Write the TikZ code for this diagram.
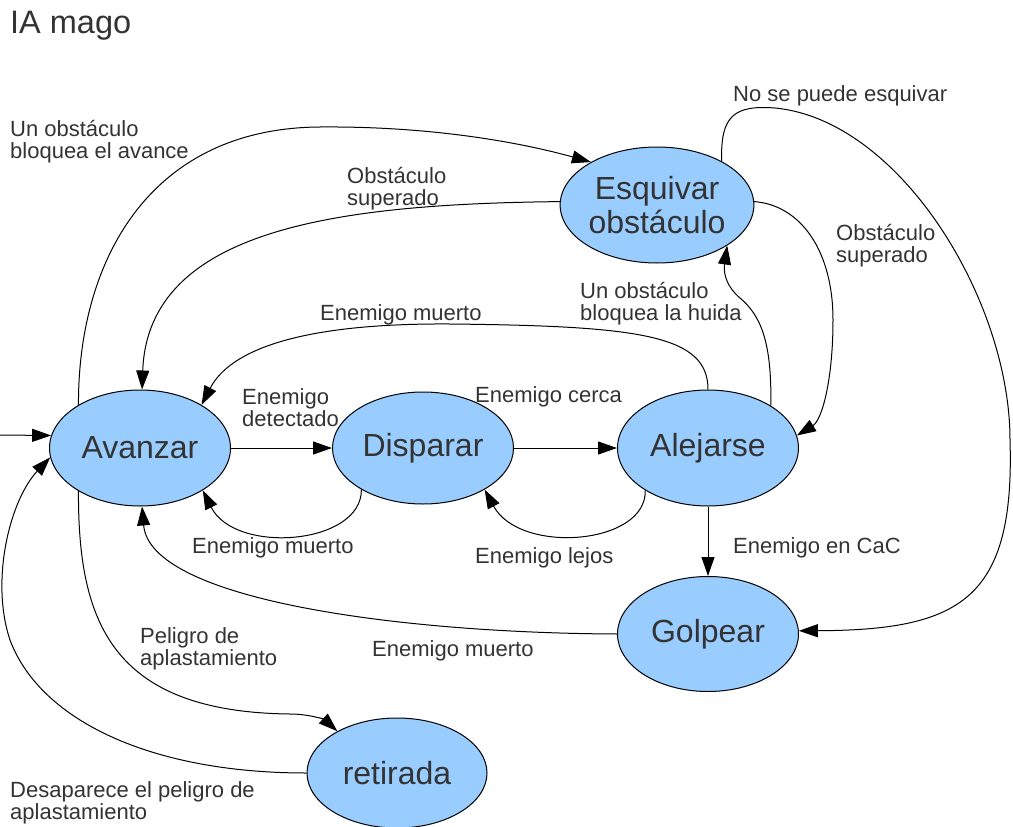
\documentclass[tikz,border=0pt]{standalone}
\usepackage{fontspec}
\setmainfont{Liberation Sans}
\usetikzlibrary{shapes.geometric,arrows.meta}
\definecolor{statefill}{HTML}{99CCFF}
\definecolor{labeltext}{HTML}{333333}
% two-line label whose reference point is the first baseline
\newcommand\twolines[2]{\vtop{\baselineskip=22.5pt\hbox{#1}\hbox{#2}}}

\begin{document}
\begin{tikzpicture}[x=1pt,y=-1pt,
  state/.style={ellipse, draw=black, line width=1pt, fill=statefill,
    minimum width=181pt, minimum height=116pt, inner sep=0pt,
    text=labeltext, font=\fontsize{32}{34}\selectfont, align=center},
  trans/.style={draw=black, line width=1pt, -{Triangle[length=19pt,width=13pt]}},
  lbl/.style={anchor=base west, inner sep=0pt, text=labeltext,
    font=\fontsize{22}{22.5}\selectfont},
]
\useasboundingbox (0,0) rectangle (1013,827);

% title
\node[lbl, font=\fontsize{32.5}{34}\selectfont] (title) at (10,33) {IA mago};

% states
\node[state] (av)  at (140,448) {Avanzar};
\node[state, minimum height=112pt] (dis) at (423,448) {Disparar};
\node[state] (al)  at (708,448) {Alejarse};
\node[state, minimum width=182pt] (esq) at (657,205) {Esquivar\\obstáculo};
\node[state, minimum height=115pt] (gol) at (708,634) {Golpear};
\node[state, minimum width=180pt, minimum height=110pt] (ret) at (397,773) {retirada};

% initial transition
\coordinate (start) at (0,435);
\draw[trans] (start) -- (av.172);

% Avanzar <-> Esquivar
\draw[trans] (av.145) .. controls (78,260) and (150,128) .. (320,127)
  .. controls (440,126) and (530,145) .. (esq.147);
\draw[trans] (esq.178) .. controls (340,204) and (148,228) .. (av.88);

% Avanzar <-> Disparar
\draw[trans] (av.east) -- (dis.west);
\draw[trans] (dis.214) .. controls (362,545) and (235,555) .. (av.326);

% Disparar <-> Alejarse
\draw[trans] (dis.east) -- (al.west);
\draw[trans] (al.214) .. controls (647,545) and (520,555) .. (dis.326);

% Alejarse -> Avanzar
\draw[trans] (al.90) .. controls (708,335) and (640,326) .. (450,324)
  .. controls (300,323) and (230,350) .. (av.35);

% Alejarse <-> Esquivar
\draw[trans] (al.34) .. controls (772,340) and (760,315) .. (740,298)
  .. controls (728,288) and (723,275) .. (esq.330);
\draw[trans] (esq.2) .. controls (800,205) and (833,250) .. (833,320)
  .. controls (833,380) and (822,420) .. (al.8);

% Esquivar -> Golpear
\draw[trans] (esq.34) .. controls (720,115) and (735,105) .. (775,108)
  .. controls (900,120) and (1010,300) .. (1010,440)
  .. controls (1015,600) and (960,630) .. (gol.2);

% Alejarse -> Golpear
\draw[trans] (al.south) -- (gol.north);

% Golpear -> Avanzar
\draw[trans] (gol.180) .. controls (400,633) and (150,600) .. (av.272);

% Avanzar <-> retirada
\draw[trans] (av.215) .. controls (78,620) and (110,712) .. (290,714)
  .. controls (310,714) and (325,720) .. (ret.145);
\draw[trans] (ret.180) .. controls (150,773) and (40,720) .. (10,640)
  .. controls (-10,580) and (10,500) .. (av.186);

% transition labels
\node[lbl] (l1)  at (10,136)  {\twolines{Un obstáculo}{bloquea el avance}};
\node[lbl] (l2)  at (347,183) {\twolines{Obstáculo}{superado}};
\node[lbl] (l3)  at (733,101) {No se puede esquivar};
\node[lbl] (l4)  at (836,240) {\twolines{Obstáculo}{superado}};
\node[lbl] (l5)  at (580,298) {\twolines{Un obstáculo}{bloquea la huida}};
\node[lbl] (l6)  at (320,320) {Enemigo muerto};
\node[lbl] (l7)  at (242,404) {\twolines{Enemigo}{detectado}};
\node[lbl] (l8)  at (475,402) {Enemigo cerca};
\node[lbl] (l9)  at (192,553) {Enemigo muerto};
\node[lbl] (l10) at (475,563) {Enemigo lejos};
\node[lbl] (l11) at (733,553) {Enemigo en CaC};
\node[lbl] (l12) at (372,656) {Enemigo muerto};
\node[lbl] (l13) at (140,643) {\twolines{Peligro de}{aplastamiento}};
\node[lbl] (l14) at (10,797)  {\twolines{Desaparece el peligro de}{aplastamiento}};
\end{tikzpicture}
\end{document}
